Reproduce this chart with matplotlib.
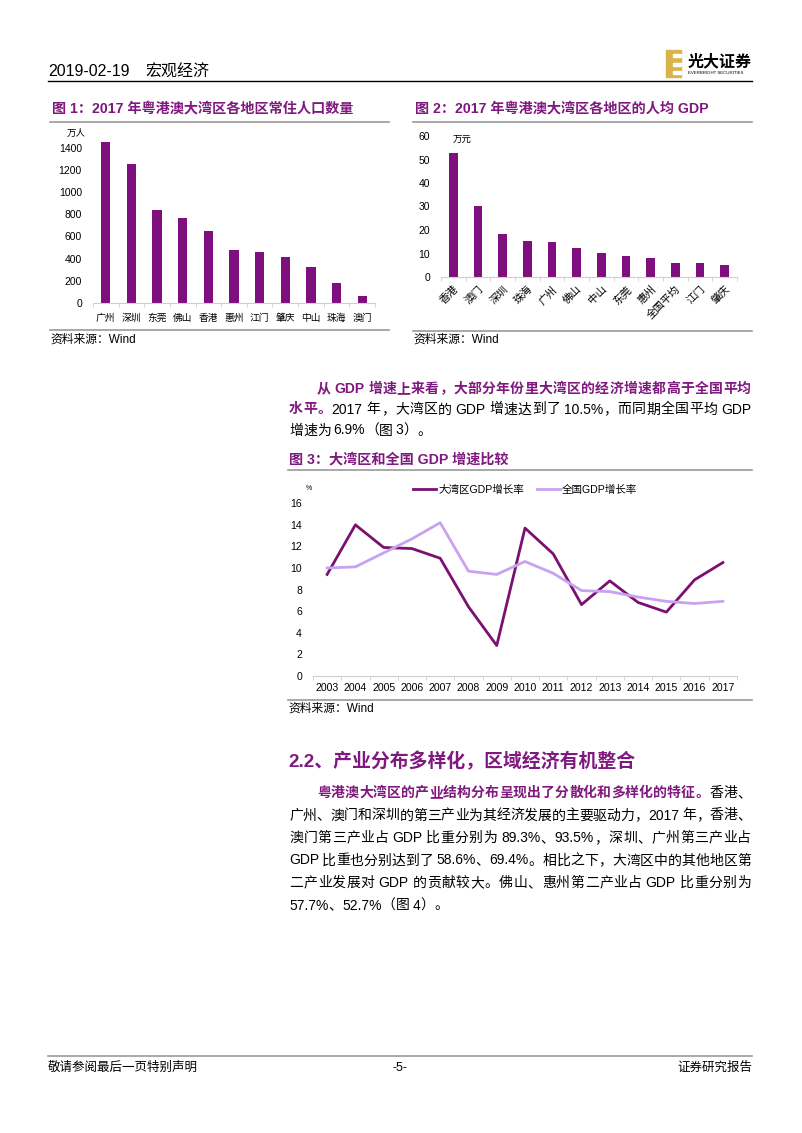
import re
import matplotlib
matplotlib.use("Agg")
import matplotlib.pyplot as plt
from matplotlib.lines import Line2D
from matplotlib.patches import Rectangle

W, H = 802, 1133
PURPLE = "#80197F"
BAR = "#7F0F7E"
DARK_LINE = "#7A1070"
LIGHT_LINE = "#C8A2F0"
GRAY = "#9A9A9A"
FONT = ["Liberation Sans", "Noto Sans CJK SC", "DejaVu Sans"]
plt.rcParams["font.family"] = FONT

# ---- data ----
pop_regions = ["广州", "深圳", "东莞", "佛山", "香港", "惠州", "江门", "肇庆", "中山", "珠海", "澳门"]
pop_values = [1450, 1253, 834, 766, 647, 478, 460, 412, 327, 177, 65]

gdp_regions = ["香港", "澳门", "深圳", "珠海", "广州", "佛山", "中山", "东莞", "惠州", "全国平均", "江门", "肇庆"]
gdp_values = [52.8, 30.4, 18.3, 15.5, 15.0, 12.3, 10.4, 9.0, 7.9, 5.9, 5.8, 5.1]

years = list(range(2003, 2018))
bay_growth = [9.4, 14.0, 11.9, 11.8, 10.9, 6.4, 2.8, 13.7, 11.3, 6.6, 8.8, 6.8, 5.9, 8.9, 10.5]
nat_growth = [10.0, 10.1, 11.4, 12.7, 14.2, 9.7, 9.4, 10.6, 9.5, 7.9, 7.8, 7.3, 6.9, 6.7, 6.9]

fig = plt.figure(figsize=(W / 100, H / 100), dpi=100)
renderer = fig.canvas.get_renderer()


def fx(px):
    return px / W


def fy(py):
    return 1 - py / H


def hline(x0, x1, y, color=GRAY, lw=1.2):
    fig.add_artist(Line2D([fx(x0), fx(x1)], [fy(y), fy(y)], color=color, lw=lw))


def txt(x, y, s, size=10, color="black", weight="normal", ha="left", **kw):
    return fig.text(fx(x), fy(y), s, fontsize=size, color=color, fontweight=weight,
                    ha=ha, va="center", **kw)


def axes_px(left, top, right, bottom):
    return fig.add_axes([fx(left), fy(bottom), (right - left) / W, (bottom - top) / H])


def tokens(s):
    return re.findall(r"[A-Za-z0-9.%\-]+| |.", s)


def para_line(x0, x1, y, parts, size=10, justify=True):
    # parts: list of (text, bold, color); spreads the tokens to fill x0..x1
    items = []
    for s, bold, color in parts:
        for tk in tokens(s):
            items.append((tk, bold, color))
    widths = []
    arts = []
    for tk, bold, color in items:
        if tk == " ":
            arts.append(None)
            widths.append(size * 0.3)
            continue
        t = txt(x0, y, tk, size=size, color=color, weight="bold" if bold else "normal")
        arts.append(t)
        widths.append(t.get_window_extent(renderer).width)
    total = sum(widths)
    gap = (x1 - x0 - total) / max(len(items) - 1, 1) if justify else 0.0
    x = x0
    for a, w in zip(arts, widths):
        if a is not None:
            a.set_x(fx(x))
        x += w + gap


def style_axes(ax):
    for side in ("left", "right", "top"):
        ax.spines[side].set_visible(False)
    ax.spines["bottom"].set_color("#CFCFCF")
    ax.tick_params(axis="y", length=0, labelsize=7.5, pad=8)
    ax.tick_params(axis="x", which="major", length=0)
    ax.tick_params(axis="x", which="minor", length=3, color="#CFCFCF")


# ---- page header ----
txt(48, 72, "2019-02-19", size=11.5)
txt(145, 72, "宏观经济", size=11.5)
hline(48, 752, 81, color="black", lw=1.0)
fig.add_artist(Rectangle((fx(666), fy(77)), 15 / W, 27 / H, color="#D9B44A"))
for yy in (55, 63.5, 72):
    fig.add_artist(Rectangle((fx(673), fy(yy + 2)), 8 / W, 3 / H, color="white"))
txt(688, 62, "光大证券", size=11.5, weight="bold")
txt(688, 73.5, "EVERBRIGHT SECURITIES", size=3.2)

# ---- figure 1 ----
txt(52, 108, "图 1：2017 年粤港澳大湾区各地区常住人口数量", size=10.2, color=PURPLE, weight="bold")
hline(50, 389, 121.5)
ax1 = axes_px(93, 136.5, 375, 303)
x1 = range(len(pop_regions))
ax1.bar(x1, pop_values, width=0.36, color=BAR)
ax1.set_xlim(-0.5, len(pop_regions) - 0.5)
ax1.set_ylim(0, 1500)
ax1.set_yticks(range(0, 1401, 200))
ax1.set_xticks(list(x1))
ax1.set_xticklabels(pop_regions, fontsize=7)
ax1.set_xticks([i + 0.5 for i in range(-1, len(pop_regions))], minor=True)
style_axes(ax1)
ax1.tick_params(axis="x", which="major", pad=7)
txt(67, 133, "万人", size=6.8)
hline(50, 389, 330)
txt(50, 340, "资料来源：Wind", size=8.5)

# ---- figure 2 ----
txt(415, 108, "图 2：2017 年粤港澳大湾区各地区的人均 GDP", size=10.2, color=PURPLE, weight="bold")
hline(413, 752, 121.5)
ax2 = axes_px(441, 136, 737, 277)
x2 = range(len(gdp_regions))
ax2.bar(x2, gdp_values, width=0.36, color=BAR)
ax2.set_xlim(-0.5, len(gdp_regions) - 0.5)
ax2.set_ylim(0, 60)
ax2.set_yticks(range(0, 61, 10))
ax2.set_xticks(list(x2))
ax2.set_xticklabels(gdp_regions, fontsize=7.6, rotation=45, ha="right", rotation_mode="anchor")
ax2.set_xticks([i + 0.5 for i in range(-1, len(gdp_regions))], minor=True)
style_axes(ax2)
ax2.tick_params(axis="x", which="major", pad=5)
txt(453, 139, "万元", size=6.8)
hline(413, 752, 330.5)
txt(413, 340, "资料来源：Wind", size=8.5)

# ---- paragraph 1 ----
para_line(317, 751, 389, [("从 GDP 增速上来看，大部分年份里大湾区的经济增速都高于全国平均", True, PURPLE)])
para_line(289, 751, 409.5, [("水平。", True, PURPLE),
                            ("2017 年，大湾区的 GDP 增速达到了 10.5%，而同期全国平均 GDP", False, "black")])
para_line(289, 751, 430.5, [("增速为 6.9%（图 3）。", False, "black")], justify=False)

# ---- figure 3 ----
txt(289, 459, "图 3：大湾区和全国 GDP 增速比较", size=10.2, color=PURPLE, weight="bold")
hline(288, 752, 470)
ax3 = axes_px(313, 503.3, 737, 675.7)
ax3.plot(years, bay_growth, color=DARK_LINE, lw=2.0, label="大湾区GDP增长率")
ax3.plot(years, nat_growth, color=LIGHT_LINE, lw=2.0, label="全国GDP增长率")
ax3.set_xlim(2002.5, 2017.5)
ax3.set_ylim(0, 16)
ax3.set_yticks(range(0, 17, 2))
ax3.set_xticks(years)
ax3.set_xticks([y + 0.5 for y in range(2002, 2018)], minor=True)
style_axes(ax3)
ax3.tick_params(axis="x", which="major", labelsize=7.6, pad=5)
ax3.legend(ncol=2, frameon=False, fontsize=7.6, loc="center",
           bbox_to_anchor=(fx(525), fy(490)), bbox_transform=fig.transFigure,
           handlelength=2.2, handletextpad=0.2, columnspacing=1.2)
txt(306, 488, "%", size=5)
hline(288, 752, 700)
txt(288, 709, "资料来源：Wind", size=8.5)

# ---- section 2.2 ----
txt(288, 762, "2.2、产业分布多样化，区域经济有机整合", size=13.6, color=PURPLE, weight="bold")
para_line(317, 751, 793, [("粤港澳大湾区的产业结构分布呈现出了分散化和多样化的特征。", True, PURPLE),
                          ("香港、", False, "black")])
body = [
    "广州、澳门和深圳的第三产业为其经济发展的主要驱动力，2017 年，香港、",
    "澳门第三产业占 GDP 比重分别为 89.3%、93.5%，深圳、广州第三产业占",
    "GDP 比重也分别达到了 58.6%、69.4%。相比之下，大湾区中的其他地区第",
    "二产业发展对 GDP 的贡献较大。佛山、惠州第二产业占 GDP 比重分别为",
]
for i, line in enumerate(body):
    para_line(289, 751, 815.5 + 22.5 * i, [(line, False, "black")])
para_line(289, 751, 905.5, [("57.7%、52.7%（图 4）。", False, "black")], justify=False)

# ---- footer ----
hline(48, 752, 1056)
txt(48, 1068, "敬请参阅最后一页特别声明", size=9)
txt(400, 1068, "-5-", size=9, ha="center")
txt(752, 1068, "证券研究报告", size=9, ha="right")

fig.savefig("out.png", dpi=100)
